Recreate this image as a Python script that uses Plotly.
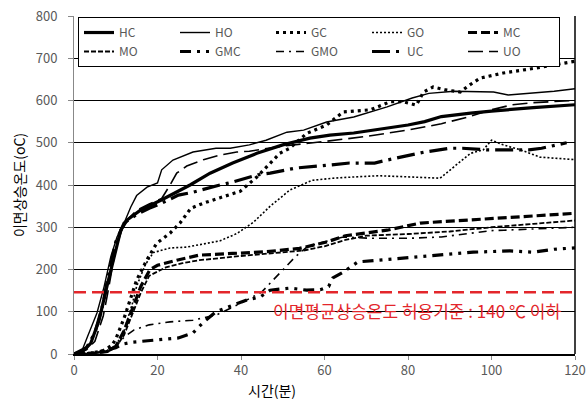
import plotly.graph_objects as go

# ---- data (time in minutes, temperature rise in oC) ----
HC_t = [0, 2, 4, 6, 8, 9.6, 11.2, 12.7, 16, 20.8, 25.5, 27.8, 32.6, 38, 43.8, 50, 56.5, 61.3, 67, 75, 80, 84, 88, 95, 100, 110, 120]
HC_v = [0, 5, 25, 80, 165, 230, 293, 317, 341, 364, 388, 400, 428, 452, 475, 495, 511, 518, 523, 535, 542, 550, 562, 570, 575, 583, 590]

HO_t = [0, 2, 3.2, 5.5, 7.2, 8.8, 10.3, 12, 13.6, 15, 17.5, 19.2, 20, 21, 23.7, 28.5, 34, 37.4, 42, 46, 51, 55, 60.5, 67, 75, 81, 85, 91, 100.5, 104, 107, 115, 120]
HO_v = [0, 10, 40, 97, 159, 230, 277, 310, 348, 375, 395, 402, 405, 436, 459, 478, 487, 487, 495, 506, 525, 530, 549, 561, 585, 606, 617, 622, 620, 613, 615, 622, 628]

GC_t = [0, 4, 7, 9, 10, 12, 13.5, 15, 17.4, 19.8, 23, 25.4, 28, 31, 35, 39.8, 43.8, 45.3, 49.3, 51.7, 55.7, 60.5, 64.5, 71, 75.7, 78.8, 82, 83.7, 86, 89, 92.5, 94.8, 97.3, 102.8, 110.8, 120]
GC_v = [0, 2, 8, 20, 35, 85, 130, 175, 222, 262, 286, 310, 345, 357, 370, 385, 419, 435, 475, 487, 522, 542, 573, 578, 597, 597, 589, 620, 632, 625, 620, 637, 653, 665, 677, 693]

GO_t = [0, 5, 8, 10, 12, 14, 15, 17, 19, 23, 27, 31, 35, 39, 43, 47, 51.7, 57, 62, 67, 73, 80.5, 84, 87.7, 91, 95, 98, 100, 102.8, 107, 111.6, 115, 120]
GO_v = [0, 2, 8, 20, 55, 120, 160, 210, 240, 251, 253, 260, 268, 285, 312, 350, 388, 411, 416, 419, 422, 419, 418, 416, 443, 475, 483, 506, 495, 483, 466, 464, 460]

MC_t = [0, 5, 8, 10, 12, 14, 16, 18.2, 20, 24.6, 30, 38, 46, 54, 60.5, 65, 75, 83, 95, 107, 120]
MC_v = [0, 2, 6, 18, 55, 105, 160, 200, 210, 222, 234, 238, 242, 250, 265, 280, 293, 310, 317, 324, 333]

MO_t = [0, 5, 8, 10, 12, 14, 16, 18, 22, 26, 30, 40, 50, 55, 60, 65, 70, 80, 90, 100, 110, 120]
MO_v = [0, 2, 5, 15, 45, 95, 145, 185, 205, 215, 222, 232, 240, 245, 255, 270, 280, 284, 290, 300, 308, 316]

GMC_t = [0, 5, 10, 12, 14, 20, 25, 28.5, 31, 34, 37.4, 41.4, 44.6, 47, 51.7, 55.7, 59, 61, 62, 64.5, 68, 72.5, 78, 86, 95.6, 104.4, 110, 115, 120]
GMC_v = [0, 3, 15, 24, 28, 33, 38, 50, 75, 100, 112, 128, 135, 151, 156, 151, 152, 160, 180, 194, 218, 222, 227, 234, 241, 244, 241, 248, 251]

GMO_t = [0, 4, 8, 10, 12, 14.4, 18, 23, 28.5, 34, 36.6, 40.5, 45, 47.7, 51, 53, 56, 60, 64.5, 71, 80.5, 88, 95, 100, 103, 110, 120]
GMO_v = [0, 2, 8, 18, 40, 57, 69, 76, 80, 92, 104, 123, 147, 175, 211, 230, 255, 265, 277, 274, 274, 277, 286, 292, 293, 296, 300]

UC_t = [0, 3, 5, 7, 8, 10, 12, 15, 18, 21, 25, 28.5, 35, 38, 44, 47, 53, 57, 61, 66, 72, 75, 80.5, 84, 90, 93, 99, 102, 109, 112, 118]
UC_v = [0, 15, 50, 120, 175, 265, 310, 330, 345, 357, 376, 383, 400, 407, 424, 428, 440, 443, 447, 452, 452, 459, 471, 478, 487, 487, 483, 483, 483, 487, 500]

UO_t = [0, 3, 5, 7, 8, 10, 12, 15, 18, 21, 23, 24.6, 27, 31, 35, 39, 42, 50, 60, 70, 80, 88, 94, 100, 105, 110, 120]
UO_v = [0, 10, 30, 90, 140, 250, 310, 340, 355, 368, 400, 428, 445, 460, 471, 478, 480, 492, 503, 515, 530, 545, 560, 578, 590, 595, 600]

LIMIT_T = [0, 120]
LIMIT_V = [146, 146]
LIMIT_TEXT = "이면평균상승온도 허용기준 : 140 ℃ 이하"

X_TICKS = [0, 20, 40, 60, 80, 100, 120]
Y_TICKS = [0, 100, 200, 300, 400, 500, 600, 700, 800]

series = [
    ("HC", HC_t, HC_v, 3.2, "solid"),
    ("HO", HO_t, HO_v, 1.4, "solid"),
    ("GC", GC_t, GC_v, 3.2, "3px,4px"),
    ("GO", GO_t, GO_v, 1.6, "2px,2px"),
    ("MC", MC_t, MC_v, 3.2, "9px,4px"),
    ("MO", MO_t, MO_v, 1.8, "5px,2px"),
    ("GMC", GMC_t, GMC_v, 3.2, "11px,6px,3px,6px,3px,6px"),
    ("GMO", GMO_t, GMO_v, 1.6, "8px,5px,2px,5px"),
    ("UC", UC_t, UC_v, 3.2, "18px,6px,3px,6px"),
    ("UO", UO_t, UO_v, 1.6, "15px,6px"),
]

FONT = "Noto Sans CJK KR"
fig = go.Figure()
for name, t, v, w, dash in series:
    fig.add_trace(go.Scatter(x=t, y=v, mode="lines", name=name,
                             line=dict(color="black", width=w, dash=dash)))

fig.add_trace(go.Scatter(x=LIMIT_T, y=LIMIT_V, mode="lines", showlegend=False,
                         line=dict(color="#e3262b", width=2.6, dash="12px,6px")))

fig.add_annotation(x=82.2, y=102, xref="x", yref="y", text=LIMIT_TEXT, showarrow=False,
                   font=dict(family=FONT, size=17, color="#e3262b"))

fig.add_annotation(x=0.395, y=-0.1065, xref="paper", yref="paper", yanchor="middle",
                   text="시간(분)", showarrow=False,
                   font=dict(family=FONT, size=14, color="black"))

fig.add_shape(type="line", xref="paper", yref="paper", x0=1, x1=1, y0=0, y1=1,
              line=dict(color="black", width=1.5))

fig.update_layout(
    width=587, height=412,
    margin=dict(l=74, r=12, t=16, b=58),
    paper_bgcolor="white", plot_bgcolor="white",
    font=dict(family=FONT, size=13, color="#595959"),
    showlegend=True,
    legend=dict(orientation="h", x=0.008, y=0.997, xanchor="left", yanchor="top",
                bgcolor="white", bordercolor="black", borderwidth=1,
                entrywidth=51, font=dict(family=FONT, size=12, color="#595959"),
                tracegroupgap=0),
    xaxis=dict(range=[0, 120], tickvals=X_TICKS, showgrid=False, zeroline=False,
               showline=True, linecolor="black", linewidth=1.5, automargin=False,
               ticks="outside", ticklen=4, tickcolor="#888",
               tickfont=dict(size=13, color="#595959")),
    yaxis=dict(range=[0, 800], tickvals=Y_TICKS, showgrid=True, gridcolor="black",
               gridwidth=1, zeroline=False, showline=True, linecolor="#888",
               ticks="outside", ticklen=5, tickcolor="#888", ticklabelstandoff=8,
               automargin=False,
               tickfont=dict(size=13, color="#595959"),
               title=dict(text="이면상승온도(oC)", standoff=6,
                          font=dict(family=FONT, size=14, color="black"))),
)

fig.write_html("out.html", config={"displayModeBar": False},
               post_script="document.body.style.margin='0px';")
